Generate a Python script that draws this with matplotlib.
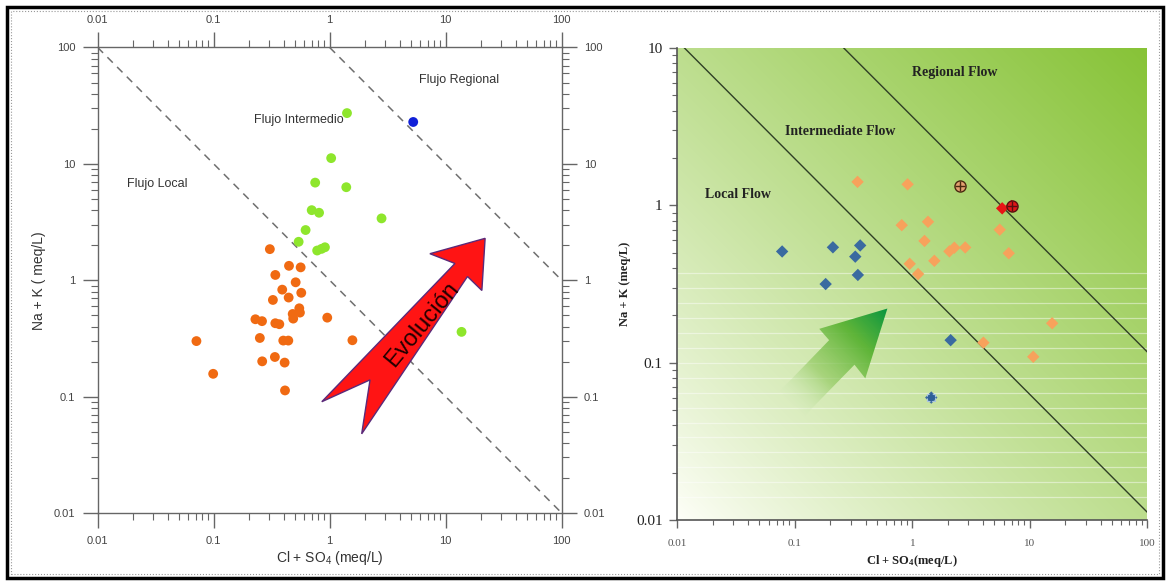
import numpy as np
import matplotlib
matplotlib.use("Agg")
import matplotlib.pyplot as plt
from matplotlib.patches import Polygon, Rectangle
from matplotlib.ticker import FixedLocator, FixedFormatter, LogLocator, NullFormatter
from matplotlib.colors import LinearSegmentedColormap

plt.rcParams['mathtext.default'] = 'regular'

# ---------------- Left panel data ----------------
left_orange_x = [0.305, 0.446, 0.562, 0.340, 0.509, 0.390, 0.569, 0.324, 0.443, 0.480,
                 0.547, 0.554, 0.485, 0.953, 0.229, 0.261, 0.340, 0.368, 0.250, 0.398,
                 0.440, 1.57, 0.099, 0.262, 0.337, 0.409, 0.412, 0.071]
left_orange_y = [1.85, 1.33, 1.29, 1.11, 0.96, 0.83, 0.78, 0.677, 0.71, 0.513,
                 0.574, 0.527, 0.468, 0.477, 0.462, 0.445, 0.427, 0.419, 0.319, 0.303,
                 0.303, 0.305, 0.157, 0.201, 0.219, 0.196, 0.113, 0.30]
left_green_x = [1.41, 1.03, 0.75, 1.39, 0.70, 0.81, 2.8, 0.62, 0.54, 0.78, 0.85, 0.91, 13.7]
left_green_y = [27.3, 11.2, 6.9, 6.3, 4.0, 3.8, 3.4, 2.7, 2.14, 1.80, 1.86, 1.92, 0.36]
left_blue_x = [5.25]
left_blue_y = [22.9]
left_line1_x = [0.01, 100]
left_line1_y = [100, 0.01]
left_line2_x = [1, 100]
left_line2_y = [100, 1]
left_ticks = [0.01, 0.1, 1, 10, 100]
left_ticklabels = ["0.01", "0.1", "1", "10", "100"]

# ---------------- Right panel data ----------------
right_blue_x = [0.078, 0.211, 0.360, 0.327, 0.344, 0.183, 2.12, 1.45]
right_blue_y = [0.509, 0.541, 0.556, 0.472, 0.361, 0.316, 0.139, 0.060]
right_orange_x = [0.342, 0.912, 0.813, 1.36, 1.27, 0.95, 1.12, 1.54, 2.07, 2.28,
                  2.82, 5.55, 6.62, 15.5, 4.03, 10.7]
right_orange_y = [1.41, 1.36, 0.748, 0.786, 0.594, 0.425, 0.366, 0.444, 0.51, 0.538,
                  0.54, 0.70, 0.496, 0.178, 0.134, 0.109]
right_red_x = [5.82, 7.0]
right_red_y = [0.957, 0.99]
right_brown_cross_x = [2.57]
right_brown_cross_y = [1.32]
right_red_cross_x = [7.0]
right_red_cross_y = [0.99]
right_blue_cross_x = [1.45]
right_blue_cross_y = [0.060]
right_line1_x = [0.0115, 100]
right_line1_y = [10, 0.0112]
right_line2_x = [0.261, 100]
right_line2_y = [10, 0.117]
right_xticks = [0.01, 0.1, 1, 10, 100]
right_xticklabels = ["0.01", "0.1", "1", "10", "100"]
right_yticks = [0.01, 0.1, 1, 10]
right_yticklabels = ["0.01", "0.1", "1", "10"]

SANS = 'Liberation Sans'
SERIF = 'Liberation Serif'

fig = plt.figure(figsize=(11.67, 5.84), dpi=100)

# outer frame
fig.add_artist(Rectangle((0.006, 0.010), 0.9906, 0.978, transform=fig.transFigure,
                         fill=False, ec='black', lw=2.5))
fig.add_artist(Rectangle((0.0095, 0.017), 0.9835, 0.964, transform=fig.transFigure,
                         fill=False, ec='#999999', lw=0.8, ls=':'))

# ================= LEFT PANEL =================
ax1 = fig.add_axes([0.0837, 0.1216, 0.3976, 0.7971])
ax1.set_xscale('log')
ax1.set_yscale('log')
ax1.set_xlim(0.01, 100)
ax1.set_ylim(0.01, 100)
for s in ax1.spines.values():
    s.set_color('#666666')
    s.set_linewidth(1.0)
for axis in (ax1.xaxis, ax1.yaxis):
    axis.set_major_locator(FixedLocator(left_ticks))
    axis.set_major_formatter(FixedFormatter(left_ticklabels))
    axis.set_minor_locator(LogLocator(base=10, subs=np.arange(2, 10)))
    axis.set_minor_formatter(NullFormatter())
ax1.tick_params(which='both', direction='out', top=True, right=True,
                labeltop=True, labelright=True, color='#666666',
                labelcolor='#444444', labelsize=8)
ax1.tick_params(which='major', length=11, width=1.0)
ax1.tick_params(which='minor', length=5, width=0.8)
ax1.tick_params(axis='x', which='major', pad=5.5)
ax1.tick_params(axis='y', which='major', pad=5)
for lab in ax1.get_xticklabels() + ax1.get_yticklabels():
    lab.set_fontfamily(SANS)
for t in ax1.xaxis.get_major_ticks() + ax1.yaxis.get_major_ticks():
    t.label2.set_fontfamily(SANS)

ax1.plot(left_line1_x, left_line1_y, color='#6f6f6f', lw=1.1, ls=(0, (5, 4)), zorder=2)
ax1.plot(left_line2_x, left_line2_y, color='#6f6f6f', lw=1.1, ls=(0, (5, 4)), zorder=2)

ax1.scatter(left_orange_x, left_orange_y, s=50, c='#f06a12', edgecolors='none', zorder=3)
ax1.scatter(left_green_x, left_green_y, s=50, c='#8ee62c', edgecolors='none', zorder=3)
ax1.scatter(left_blue_x, left_blue_y, s=50, c='#1020d8', edgecolors='none', zorder=3)

red_arrow = [(0.835, 0.590), (0.716, 0.557), (0.770, 0.536), (0.483, 0.239),
             (0.587, 0.286), (0.569, 0.170), (0.797, 0.508), (0.828, 0.478)]
ax1.add_patch(Polygon(red_arrow, closed=True, transform=ax1.transAxes,
                      fc='#ff1414', ec='#5a2a7a', lw=1.0, zorder=4))
ax1.text(0.700, 0.404, 'Evolución', transform=ax1.transAxes, rotation=50.5,
         ha='center', va='center', fontsize=17, fontfamily=SANS, color='#220000',
         rotation_mode='anchor', zorder=5)

ax1.text(0.779, 0.930, 'Flujo Regional', transform=ax1.transAxes, ha='center',
         va='center', fontsize=9, fontfamily=SANS, color='#333333')
ax1.text(0.433, 0.845, 'Flujo Intermedio', transform=ax1.transAxes, ha='center',
         va='center', fontsize=9, fontfamily=SANS, color='#333333')
ax1.text(0.129, 0.706, 'Flujo Local', transform=ax1.transAxes, ha='center',
         va='center', fontsize=9, fontfamily=SANS, color='#333333')

ax1.set_xlabel('Cl + SO$_4$ (meq/L)', fontsize=10, fontfamily=SANS, color='#333333')
ax1.set_ylabel('Na + K ( meq/L)', fontsize=10, fontfamily=SANS, color='#333333')
ax1.xaxis.set_label_coords(0.5, -0.078)
ax1.yaxis.set_label_coords(-0.112, 0.5)

# ================= RIGHT PANEL =================
pos2 = [0.5804, 0.1096, 0.4027, 0.8082]
axbg = fig.add_axes(pos2, zorder=0)
axbg.set_xlim(0, 1)
axbg.set_ylim(0, 1)
axbg.axis('off')
n = 300
gx, gy = np.meshgrid(np.linspace(0, 1, n), np.linspace(0, 1, n))
tgrad = np.clip((gx + gy) / 2.0, 0, 1) ** 0.85
c0 = np.array([1.0, 1.0, 0.98])
c1 = np.array([135, 195, 55]) / 255.0
bgimg = c0[None, None, :] + (c1 - c0)[None, None, :] * tgrad[..., None]
axbg.imshow(bgimg, extent=[0, 1, 0, 1], origin='lower', aspect='auto',
            interpolation='bilinear', zorder=0)
# faint white horizontal stripes (scan artefact)
for yy in np.arange(0.048, 0.53, 0.0317):
    axbg.plot([0, 1], [yy, yy], color='white', lw=0.9, alpha=0.45, zorder=1)

# green gradient arrow
green_arrow = [(0.447, 0.448), (0.302, 0.405), (0.323, 0.381), (0.219, 0.274),
               (0.272, 0.222), (0.377, 0.329), (0.400, 0.300)]
gpoly = Polygon(green_arrow, closed=True, fc='none', ec='none')
axbg.add_patch(gpoly)
proj = ((gx - 0.23) + (gy - 0.23)) / 0.44
proj = np.clip(proj, 0, 1)
cmap_g = LinearSegmentedColormap.from_list(
    'ga', [(0.0, (0.90, 0.96, 0.85, 0.0)), (0.35, (0.55, 0.78, 0.35, 0.6)),
           (0.7, (0.35, 0.70, 0.20, 0.95)), (1.0, (0.02, 0.58, 0.25, 1.0))])
gim = axbg.imshow(proj, extent=[0, 1, 0, 1], origin='lower', aspect='auto',
                  cmap=cmap_g, vmin=0, vmax=1, interpolation='bilinear', zorder=2)
gim.set_clip_path(gpoly)

ax2 = fig.add_axes(pos2, zorder=1)
ax2.patch.set_alpha(0)
ax2.set_xscale('log')
ax2.set_yscale('log')
ax2.set_xlim(0.01, 100)
ax2.set_ylim(0.01, 10)
ax2.spines['top'].set_visible(False)
ax2.spines['right'].set_visible(False)
for s in ('left', 'bottom'):
    ax2.spines[s].set_color('#555555')
    ax2.spines[s].set_linewidth(1.2)
ax2.xaxis.set_major_locator(FixedLocator(right_xticks))
ax2.xaxis.set_major_formatter(FixedFormatter(right_xticklabels))
ax2.yaxis.set_major_locator(FixedLocator(right_yticks))
ax2.yaxis.set_major_formatter(FixedFormatter(right_yticklabels))
for axis in (ax2.xaxis, ax2.yaxis):
    axis.set_minor_locator(LogLocator(base=10, subs=np.arange(2, 10)))
    axis.set_minor_formatter(NullFormatter())
ax2.tick_params(which='both', direction='out', color='#666666')
ax2.tick_params(which='major', length=6, width=1.0)
ax2.tick_params(which='minor', length=3.5, width=0.8)
ax2.tick_params(axis='y', which='major', labelsize=11, labelcolor='#222222', pad=4.5)
ax2.tick_params(axis='x', which='major', labelsize=8, labelcolor='#555555', pad=8)
for lab in ax2.get_xticklabels() + ax2.get_yticklabels():
    lab.set_fontfamily(SERIF)

ax2.plot(right_line1_x, right_line1_y, color='#2f3f25', lw=1.0, zorder=2)
ax2.plot(right_line2_x, right_line2_y, color='#2f3f25', lw=1.0, zorder=2)

ax2.scatter(right_blue_x, right_blue_y, marker='D', s=40, c='#3a6aa0',
            edgecolors='none', zorder=3)
ax2.scatter(right_orange_x, right_orange_y, marker='D', s=40, c='#f7a25c',
            edgecolors='none', zorder=3)
ax2.scatter(right_red_x, right_red_y, marker='D', s=40, c='#e81515',
            edgecolors='none', zorder=3)
ax2.scatter(right_brown_cross_x, right_brown_cross_y, marker='o', s=64, c='#e3a070',
            edgecolors='#4a2a10', linewidths=1.0, zorder=4)
ax2.scatter(right_brown_cross_x, right_brown_cross_y, marker='+', s=58, c='#4a2a10',
            linewidths=1.0, zorder=5)
ax2.scatter(right_red_cross_x, right_red_cross_y, marker='o', s=64, c='#e01818',
            edgecolors='#5a1010', linewidths=1.0, zorder=4)
ax2.scatter(right_red_cross_x, right_red_cross_y, marker='+', s=58, c='#5a1010',
            linewidths=1.0, zorder=5)
ax2.scatter(right_blue_cross_x, right_blue_cross_y, marker='s', s=30, c='none',
            edgecolors='#a8c4e0', linewidths=0.8, zorder=4)
ax2.scatter(right_blue_cross_x, right_blue_cross_y, marker='D', s=22, c='#2f5f98',
            edgecolors='none', zorder=5)

ax2.text(0.590, 0.948, 'Regional Flow', transform=ax2.transAxes, ha='center',
         va='center', fontsize=10, fontweight='bold', fontfamily=SERIF, color='#222222')
ax2.text(0.346, 0.824, 'Intermediate Flow', transform=ax2.transAxes, ha='center',
         va='center', fontsize=10, fontweight='bold', fontfamily=SERIF, color='#222222')
ax2.text(0.130, 0.689, 'Local Flow', transform=ax2.transAxes, ha='center',
         va='center', fontsize=10, fontweight='bold', fontfamily=SERIF, color='#222222')

ax2.set_xlabel('Cl + SO$_4$(meq/L)', fontsize=9, fontweight='bold', fontfamily=SERIF,
               color='#222222')
ax2.set_ylabel('Na + K (meq/L)', fontsize=9, fontweight='bold', fontfamily=SERIF,
               color='#222222')
ax2.xaxis.set_label_coords(0.5, -0.070)
ax2.yaxis.set_label_coords(-0.098, 0.5)

fig.savefig('out.png', dpi=100)
